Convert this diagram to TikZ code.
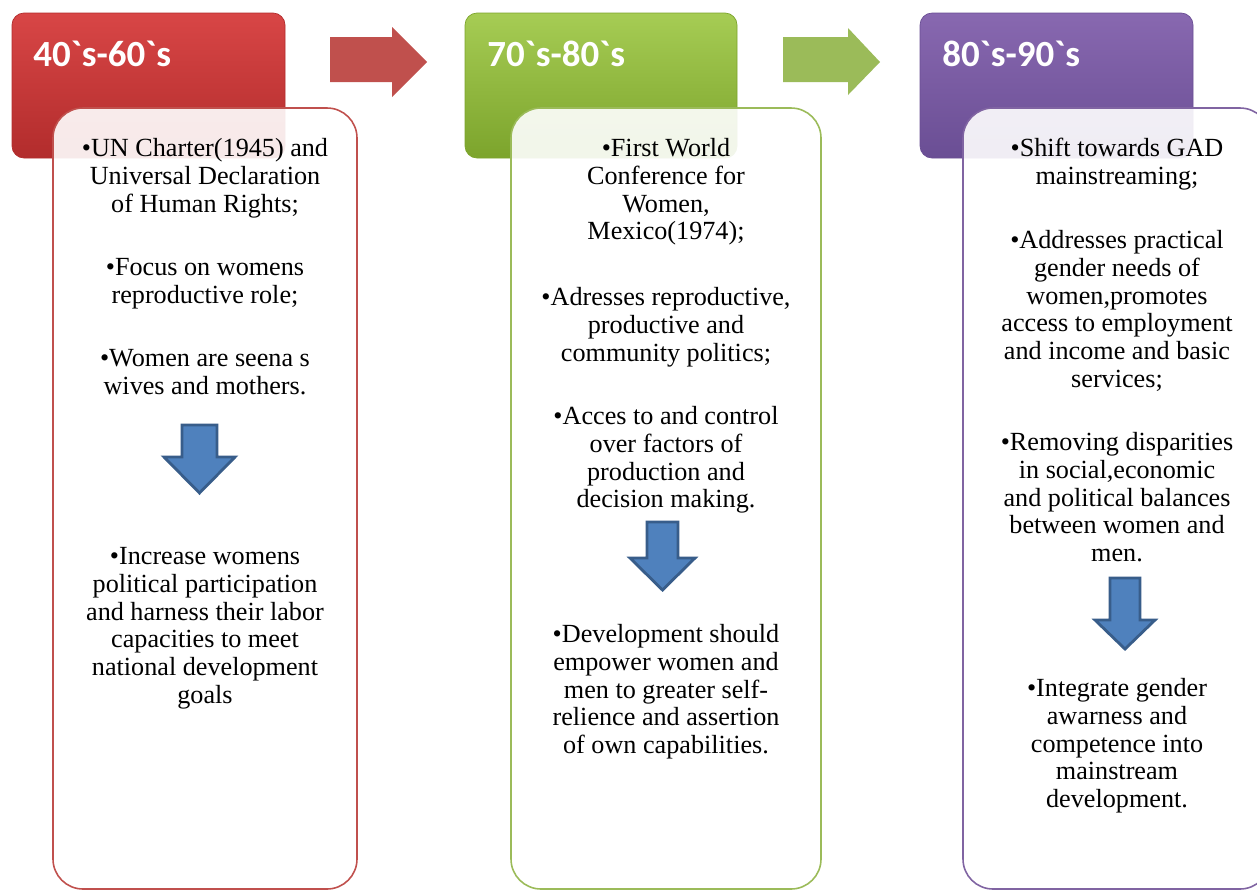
\documentclass[tikz,border=0pt]{standalone}
\usepackage{fontspec}
\setmainfont{Liberation Serif}
\newfontfamily\hdrfont{Carlito}[Ligatures=TeXOff]
\usepackage{xcolor}
\definecolor{redtop}{RGB}{216,70,70}
\definecolor{redbot}{RGB}{178,44,44}
\definecolor{greentop}{RGB}{166,204,84}
\definecolor{greenbot}{RGB}{124,164,44}
\definecolor{purptop}{RGB}{136,104,176}
\definecolor{purpbot}{RGB}{106,78,148}
\definecolor{qred}{RGB}{192,80,77}
\definecolor{qgreen}{RGB}{155,187,89}
\definecolor{qpurple}{RGB}{128,100,162}
\definecolor{qblue}{RGB}{79,129,189}
\definecolor{qbluedark}{RGB}{56,93,138}

\tikzset{
  hdr/.style={rounded corners=0.24cm, line width=0.4pt},
  hdrtxt/.style={anchor=base west, inner sep=0, text=white, font=\hdrfont\bfseries\fontsize{21}{24}\selectfont},
  cbox/.style={rounded corners=0.6cm, fill=white, fill opacity=0.9, line width=0.9pt},
  bul/.style={anchor=north, inner sep=0, align=center, font=\fontsize{14.9}{15.76}\selectfont},
  downarr/.style={fill=qblue, draw=qbluedark, line width=1.6pt, line join=miter},
  rightarr/.style={line width=0.4pt}
}

\begin{document}
\begin{tikzpicture}[x=0.02cm, y=-0.02cm]
\useasboundingbox (0,0) rectangle (1257,890);
\clip (0,0) rectangle (1257,890);

%headers
\shade[hdr, top color=redtop, bottom color=redbot, draw=redbot] (12,13) rectangle (285,158);
\shade[hdr, top color=greentop, bottom color=greenbot, draw=greenbot] (465,13) rectangle (737,158);
\shade[hdr, top color=purptop, bottom color=purpbot, draw=purpbot] (920,13) rectangle (1193,158);
\node[hdrtxt] (t1) at (33,66) {40`s-60`s};
\node[hdrtxt] (t2) at (487,66) {70`s-80`s};
\node[hdrtxt] (t3) at (942,66) {80`s-90`s};

%arrows between the periods
\fill[rightarr, qred] (330,37) -- (392,37) -- (392,27) -- (427,62) -- (392,97) -- (392,82) -- (330,82) -- cycle;
\fill[rightarr, qgreen] (783,37) -- (848,37) -- (848,28) -- (880,62) -- (848,95) -- (848,82) -- (783,82) -- cycle;

%content boxes
\draw[cbox, draw=qred] (53,108) rectangle (357,889);
\draw[cbox, draw=qgreen] (511,108) rectangle (821,889);
\draw[cbox, draw=qpurple] (963,108) rectangle (1270,889);

%first column
\node[bul] (r1) at (205,137) {\strut\textbullet UN Charter(1945) and\\Universal Declaration\\of Human Rights;};
\node[bul] (r2) at (205,256) {\strut\textbullet Focus on womens\\reproductive role;};
\node[bul] (r3) at (205,347) {\strut\textbullet Women are seena s\\wives and mothers.};
\draw[downarr] (182,425) -- (217,425) -- (217,457) -- (235,457) -- (199.5,493) -- (164,457) -- (182,457) -- cycle;
\node[bul] (r4) at (205,545) {\strut\textbullet Increase womens\\political participation\\and harness their labor\\capacities to meet\\national development\\goals};

%second column
\node[bul] (g1) at (666,137) {\strut\textbullet First World\\Conference for\\Women,\\Mexico(1974);};
\node[bul] (g2) at (666,286) {\strut\textbullet Adresses reproductive,\\productive and\\community politics;};
\node[bul] (g3) at (666,405) {\strut\textbullet Acces to and control\\over factors of\\production and\\decision making.};
\draw[downarr] (647,522) -- (678,522) -- (678,558) -- (695,558) -- (662.5,590) -- (630,558) -- (647,558) -- cycle;
\node[bul] (g4) at (666,623) {\strut\textbullet Development should\\empower women and\\men to greater self-\\relience and assertion\\of own capabilities.};

%third column
\node[bul] (p1) at (1117,137) {\strut\textbullet Shift towards GAD\\mainstreaming;};
\node[bul] (p2) at (1117,229) {\strut\textbullet Addresses practical\\gender needs of\\women,promotes\\access to employment\\and income and basic\\services;};
\node[bul] (p3) at (1117,431) {\strut\textbullet Removing disparities\\in social,economic\\and political balances\\between women and\\men.};
\draw[downarr] (1110,578) -- (1140,578) -- (1140,620) -- (1155,620) -- (1125,649) -- (1095,620) -- (1110,620) -- cycle;
\node[bul] (p4) at (1117,677) {\strut\textbullet Integrate gender\\awarness and\\competence into\\mainstream\\development.};

\end{tikzpicture}
\end{document}
